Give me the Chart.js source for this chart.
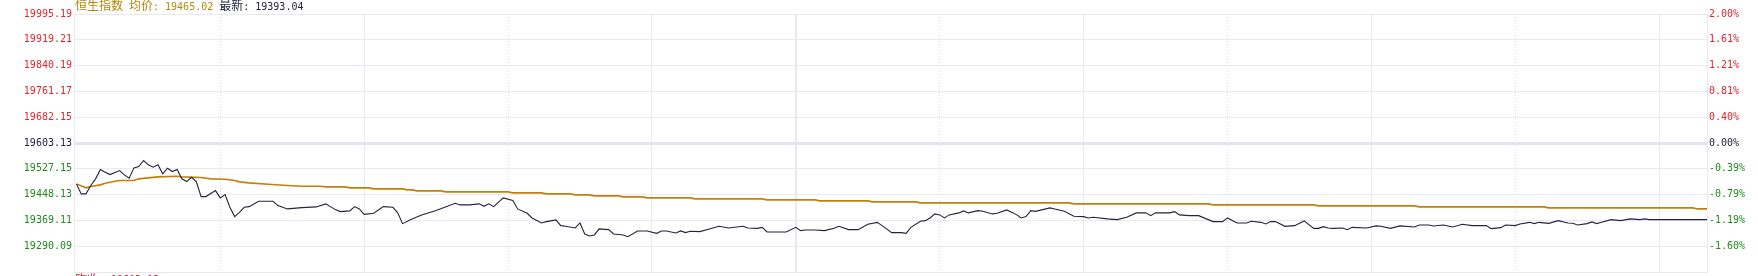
<!DOCTYPE html>
<html>
<head>
<meta charset="utf-8">
<script src="https://cdn.jsdelivr.net/npm/chart.js@4.4.1/dist/chart.umd.min.js"></script>
<style>
  html, body { margin: 0; padding: 0; background: #fff; overflow: hidden; }
  canvas { display: block; }
</style>
</head>
<body>
<canvas id="chart" width="1758" height="276" style="width:1758px;height:276px"></canvas>
<script>
// 恒生指数 intraday, x = trading minutes since 09:30 (12:00 and 13:00 share minute 150, 16:10 = 340)
const prevClose = 19603.13
const avgText = '19465.02'
const lastText = '19393.04'

const pctSteps = [2, 1.6, 1.2, 0.8, 0.4, 0, -0.4, -0.8, -1.2, -1.6, -2]
const leftLabels = ['19995.19', '19919.21', '19840.19', '19761.17', '19682.15', '19603.13',
  '19527.15', '19448.13', '19369.11', '19290.09', '']
const rightLabels = ['2.00%', '1.61%', '1.21%', '0.81%', '0.40%', '0.00%',
  '-0.39%', '-0.79%', '-1.19%', '-1.60%', '']

const solidTicks = [60, 120, 150, 210, 270, 330]   // 10:30 11:30 12:00 14:00 15:00 16:00
const dottedTicks = [30, 90, 180, 240, 300]        // 10:00 11:00 13:30 14:30 15:30

const priceMinutes = [0, 1, 2, 3, 4, 5, 6, 7, 9, 10, 11, 12, 13, 14, 15, 16, 17, 18, 19, 20, 21, 22, 23, 24, 25, 26, 27, 29, 30,
  31, 32, 33, 34, 35, 36, 38, 41, 42, 44, 47, 50, 52, 54, 55, 57, 58, 59, 60, 62, 64, 66, 67, 68, 70, 72, 75, 79, 80,
  82, 84, 85, 86, 87, 89, 91, 92, 94, 95, 97, 98, 100, 101, 102, 104, 105, 106, 107, 108, 109, 111, 112, 114, 115, 117,
  119, 121, 122, 123, 125, 126, 127, 128, 130, 132, 134, 136, 139, 140, 142, 143, 144, 148, 150, 151, 152, 154, 156,
  158, 159, 161, 163, 165, 167, 168, 170, 172, 173, 174, 176, 177, 178, 179, 180, 181, 182, 184, 185, 186, 188, 189,
  191, 192, 194, 196, 197, 198, 199, 200, 203, 204, 206, 208, 210, 211, 212, 215, 217, 219, 221, 223, 224, 225, 228,
  229, 230, 232, 234, 237, 239, 240, 242, 244, 245, 247, 248, 249, 250, 252, 254, 256, 258, 259, 260, 261, 262, 264,
  265, 266, 269, 271, 272, 274, 276, 279, 280, 282, 283, 285, 287, 289, 291, 294, 295, 297, 298, 300, 301, 303, 304,
  305, 307, 309, 311, 312, 313, 315, 316, 317, 318, 320, 322, 324, 326, 327, 328, 340]
const priceValues = [19478.9, 19448.5, 19448.5, 19473.8, 19494.2, 19522.5, 19514.2, 19507.2, 19519.4, 19506.3, 19496.0,
  19527.6, 19531.6, 19549.9, 19536.8, 19529.5, 19536.8, 19509.4, 19526.4, 19516.4, 19522.5, 19494.2, 19485.9, 19499.0,
  19485.9, 19440.3, 19440.3, 19458.5, 19436.3, 19446.4, 19407.7, 19379.4, 19392.5, 19407.7, 19409.8, 19426.0, 19426.0,
  19412.9, 19402.8, 19406.8, 19408.9, 19418.1, 19400.7, 19394.6, 19396.7, 19409.8, 19402.8, 19386.4, 19389.4, 19409.8,
  19407.7, 19390.7, 19358.1, 19372.4, 19384.6, 19397.7, 19419.9, 19415.0, 19415.0, 19418.1, 19410.8, 19418.1, 19409.8,
  19436.3, 19428.1, 19402.8, 19389.4, 19375.4, 19360.2, 19364.2, 19369.4, 19352.0, 19349.9, 19345.0, 19360.2, 19326.7,
  19320.7, 19323.7, 19342.0, 19339.8, 19326.7, 19323.7, 19318.5, 19335.9, 19335.9, 19328.6, 19335.9, 19335.9, 19329.8,
  19335.9, 19330.7, 19334.7, 19333.7, 19342.0, 19349.9, 19345.0, 19349.9, 19345.0, 19343.8, 19346.8, 19332.8, 19332.8,
  19346.8, 19336.8, 19338.9, 19338.9, 19336.8, 19343.8, 19349.9, 19339.8, 19339.8, 19356.0, 19362.0, 19352.0, 19330.7,
  19330.7, 19328.6, 19346.8, 19365.1, 19367.2, 19375.4, 19387.6, 19384.6, 19375.4, 19384.6, 19390.7, 19396.7, 19390.7,
  19397.7, 19395.5, 19387.6, 19389.4, 19399.8, 19385.5, 19375.4, 19379.4, 19397.7, 19395.5, 19405.9, 19402.8, 19395.5,
  19380.3, 19379.4, 19375.4, 19377.3, 19372.4, 19370.3, 19377.3, 19390.7, 19390.7, 19382.4, 19390.7, 19390.7, 19394.6,
  19384.6, 19382.4, 19382.4, 19364.2, 19364.2, 19375.4, 19360.2, 19360.2, 19365.1, 19362.0, 19357.2, 19364.2, 19364.2,
  19349.9, 19352.0, 19366.3, 19343.8, 19343.8, 19348.9, 19345.0, 19343.8, 19345.0, 19339.8, 19346.8, 19345.0, 19351.1,
  19349.9, 19343.8, 19351.1, 19348.0, 19354.1, 19354.1, 19351.1, 19354.1, 19348.0, 19356.0, 19352.0, 19352.0, 19342.9,
  19345.9, 19354.1, 19352.0, 19357.2, 19362.0, 19358.1, 19362.0, 19359.0, 19367.2, 19360.2, 19359.0, 19354.1, 19358.1,
  19363.3, 19358.1, 19362.0, 19370.3, 19367.2, 19372.4, 19370.3, 19372.4, 19370.3, 19370.3]

const avgMinutes = [0, 2, 3, 5, 6, 7, 9, 12, 13, 15, 17, 21, 22, 26, 28, 31, 33, 34, 36, 40, 44, 47, 51, 52, 56, 57, 61,
  62, 68, 69, 70, 71, 76, 77, 90, 91, 97, 98, 103, 104, 107, 108, 113, 114, 118, 119, 128, 129, 143, 144, 154, 155,
  165, 166, 175, 176, 207, 208, 236, 237, 258, 259, 279, 280, 306, 307, 337, 338, 340]
const avgValues = [19478.9, 19466.8, 19470.7, 19475.9, 19480.8, 19483.8, 19489.0, 19489.0, 19494.2, 19497.2, 19500.3,
  19502.1, 19500.3, 19498.1, 19494.2, 19492.9, 19489.0, 19485.0, 19482.0, 19477.7, 19473.8, 19471.6, 19471.6, 19469.8,
  19469.8, 19466.8, 19466.8, 19463.7, 19463.7, 19460.7, 19460.7, 19457.6, 19457.6, 19454.6, 19454.6, 19451.5, 19451.5,
  19448.5, 19448.5, 19445.5, 19445.5, 19442.4, 19442.4, 19439.4, 19439.4, 19436.3, 19436.3, 19433.3, 19433.3, 19430.2,
  19430.2, 19427.2, 19427.2, 19424.1, 19424.1, 19421.1, 19421.1, 19418.1, 19418.1, 19415.0, 19415.0, 19412.0, 19412.0,
  19408.9, 19408.9, 19405.9, 19405.9, 19402.8, 19402.8]

const RED = '#e3262e'
const GREEN = '#1d8b1d'
const DARK = '#24243c'
const ORANGE = '#c47f0a'
const TITLE_ORANGE = '#b8860b'
const GRID = '#e9e9f3'
const MONO = '10px "DejaVu Sans Mono"'
const CJK = '12px "Noto Sans CJK SC"'

const yMin = prevClose * (1 + pctSteps[pctSteps.length - 1] / 100)
const yMax = prevClose * (1 + pctSteps[0] / 100)
const tickColor = i => pctSteps[i] > 0 ? RED : (pctSteps[i] < 0 ? GREEN : DARK)

function setTicks(scale) {
  scale.ticks = pctSteps.map(p => ({value: prevClose * (1 + p / 100)}))
}
function fixWidth(w) {
  return scale => {
    scale.width = w
    scale.paddingTop = 0
    scale.paddingBottom = 0
  }
}

// draws text pieces one after the other, each with its own font, colour and y shift
function drawRun(ctx, parts, x, y) {
  parts.forEach(p => {
    ctx.font = p.font
    ctx.fillStyle = p.color
    ctx.fillText(p.text, x, y + (p.dy || 0))
    x += ctx.measureText(p.text).width
  })
}

const textPlugin = {
  id: 'texts',
  afterDraw(chart) {
    const ctx = chart.ctx
    const left = chart.chartArea.left
    ctx.save()
    ctx.textBaseline = 'alphabetic'
    drawRun(ctx, [
      {text: '恒生指数', font: CJK, color: TITLE_ORANGE},
      {text: ' ', font: MONO, color: TITLE_ORANGE},
      {text: '均价', font: CJK, color: TITLE_ORANGE},
      {text: ': ' + avgText + ' ', font: MONO, color: TITLE_ORANGE},
      {text: '最新', font: CJK, color: DARK},
      {text: ': ' + lastText, font: MONO, color: DARK}
    ], left + 1, 10)
    // previous close, cut off by the bottom edge
    ctx.textBaseline = 'top'
    drawRun(ctx, [
      {text: '昨收', font: CJK, color: RED},
      {text: '  ' + leftLabels[5], font: MONO, color: RED, dy: 2}
    ], left + 1, chart.chartArea.bottom + 1)
    ctx.restore()
  }
}

const xBase = {
  type: 'linear',
  position: 'bottom',
  min: -0.5,
  max: 340,
  ticks: {display: false},
}

new Chart(document.getElementById('chart'), {
  type: 'line',
  data: {
    datasets: [
      {
        label: '恒生指数',
        data: priceMinutes.map((m, i) => ({x: m, y: priceValues[i]})),
        borderColor: DARK,
        borderWidth: 1.1,
        pointRadius: 0,
        tension: 0
      },
      {
        label: '均价',
        data: avgMinutes.map((m, i) => ({x: m, y: avgValues[i]})),
        borderColor: ORANGE,
        borderWidth: 1.6,
        pointRadius: 0,
        tension: 0
      }
    ]
  },
  options: {
    responsive: false,
    animation: false,
    devicePixelRatio: 1,
    layout: {padding: {top: 14, bottom: 4, left: 0, right: 0}},
    plugins: {legend: {display: false}, tooltip: {enabled: false}},
    scales: {
      x: {
        ...xBase,
        afterBuildTicks: s => { s.ticks = solidTicks.map(v => ({value: v})) },
        grid: {
          drawTicks: false,
          color: GRID,
          lineWidth: c => c.tick && c.tick.value === 150 ? 2 : 1
        },
        border: {display: true, color: GRID, width: 1}
      },
      x2: {
        ...xBase,
        afterBuildTicks: s => { s.ticks = dottedTicks.map(v => ({value: v})) },
        grid: {drawTicks: false, color: '#dcdce8', lineWidth: 1},
        border: {display: false, dash: [1, 2]}
      },
      y: {
        type: 'linear',
        position: 'left',
        min: yMin,
        max: yMax,
        afterBuildTicks: setTicks,
        afterFit: fixWidth(74),
        ticks: {
          autoSkip: false,
          padding: 2,
          font: {family: 'DejaVu Sans Mono', size: 10},
          color: c => tickColor(c.index),
          callback: (v, i) => leftLabels[i]
        },
        grid: {
          drawTicks: false,
          color: c => c.index === 5 ? '#e3e3f1' : GRID,
          lineWidth: c => c.index === 5 ? 3 : 1
        },
        border: {display: true, color: GRID, width: 1}
      },
      y2: {
        type: 'linear',
        position: 'right',
        min: yMin,
        max: yMax,
        afterBuildTicks: setTicks,
        afterFit: fixWidth(51),
        ticks: {
          autoSkip: false,
          padding: 2,
          font: {family: 'DejaVu Sans Mono', size: 10},
          color: c => tickColor(c.index),
          callback: (v, i) => rightLabels[i]
        },
        grid: {drawTicks: false, drawOnChartArea: false},
        border: {display: true, color: GRID, width: 1}
      }
    }
  },
  plugins: [textPlugin]
})
</script>
</body>
</html>
